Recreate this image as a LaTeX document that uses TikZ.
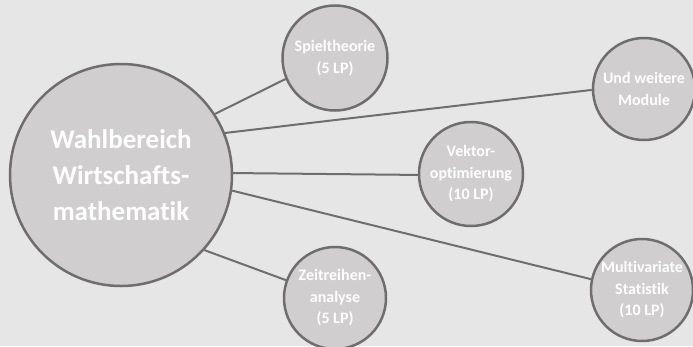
\documentclass[tikz,border=0pt]{standalone}
\usepackage{fontspec}
\setmainfont{Carlito}[RawFeature={-liga;-dlig}]
\definecolor{bgc}{HTML}{E7E6E6}
\definecolor{fillc}{HTML}{D0CECE}
\definecolor{linec}{HTML}{6F6D6D}
\tikzset{
  bubble/.style={circle, draw=linec, fill=fillc, line width=2.5pt, inner sep=0pt,
    text=white, font=\bfseries\fontsize{16}{21.5}\selectfont, align=center},
  bigbubble/.style={bubble, font=\bfseries\fontsize{27}{36}\selectfont},
  link/.style={draw=linec, line width=2pt}
}
\begin{document}
\begin{tikzpicture}[x=1pt,y=-1pt]
\fill[bgc] (0,0) rectangle (693,346);
\useasboundingbox (0,0) rectangle (693,346);
\node[bigbubble, minimum size=222pt] (big) at (121,175) {Wahlbereich\\Wirtschafts-\\mathematik};
\node[bubble, minimum size=105pt] (sp) at (335,58) {Spieltheorie\\(5 LP)};
\node[bubble, minimum size=102pt] (uw) at (644,89) {Und weitere\\Module};
\node[bubble, minimum size=104pt] (vk) at (471,174) {Vektor-\\optimierung\\(10 LP)};
\node[bubble, minimum size=102pt] (zr) at (335,298) {Zeitreihen-\\analyse\\(5 LP)};
\node[bubble, minimum size=102pt] (mv) at (642,290) {Multivariate\\Statistik\\(10 LP)};
\draw[link] (big.33.7) -- (sp.203);
\draw[link] (big.22) -- (uw.181);
\draw[link] (big.1.5) -- (vk.181.5);
\draw[link] (big.-8.7) -- (mv.168);
\draw[link] (big.-42.4) -- (zr.160);
\end{tikzpicture}
\end{document}
